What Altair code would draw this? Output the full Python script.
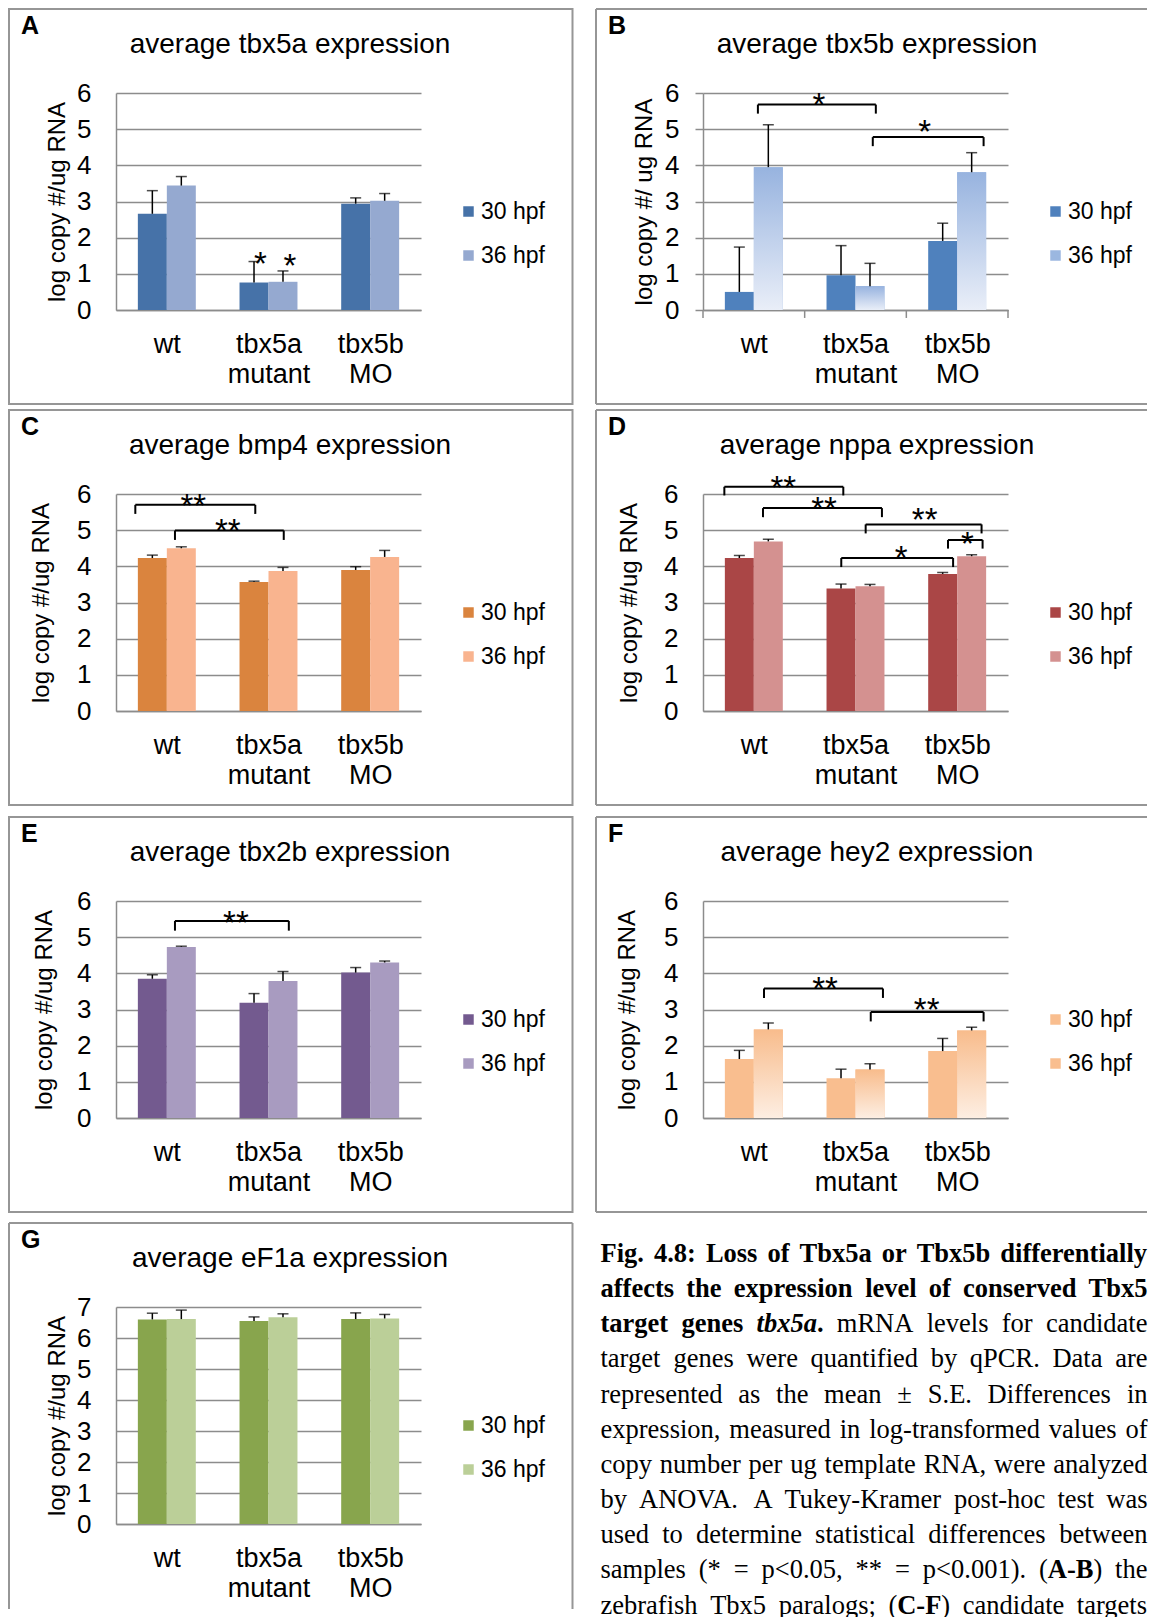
import json
import altair as alt
import pandas as pd

FONT = "Liberation Sans"
SERIF = "Liberation Serif"
GRAY = "#8c8c8c"
FRAME = "#969696"

# ---------------- data ----------------
groups = ["wt", "tbx5a mutant", "tbx5b MO"]
series = ["30 hpf", "36 hpf"]
letters = ["A", "B", "C", "D", "E", "F", "G"]
genes = ["tbx5a", "tbx5b", "bmp4", "nppa", "tbx2b", "hey2", "eF1a"]
ytitles = ["log copy #/ug RNA", "log copy #/ ug RNA", "log copy #/ug RNA", "log copy #/ug RNA",
           "log copy #/ug RNA", "log copy #/ug RNA", "log copy #/ug RNA"]

A_30 = [2.66, 0.76, 2.94]; A_30_se = [0.64, 0.58, 0.16]
A_36 = [3.44, 0.78, 3.02]; A_36_se = [0.25, 0.30, 0.20]
B_30 = [0.50, 0.96, 1.91]; B_30_se = [1.24, 0.82, 0.49]
B_36 = [3.95, 0.66, 3.81]; B_36_se = [1.17, 0.63, 0.54]
C_30 = [4.23, 3.57, 3.90]; C_30_se = [0.08, 0.02, 0.09]
C_36 = [4.50, 3.87, 4.26]; C_36_se = [0.04, 0.10, 0.18]
D_30 = [4.23, 3.39, 3.79]; D_30_se = [0.07, 0.12, 0.04]
D_36 = [4.69, 3.45, 4.28]; D_36_se = [0.06, 0.05, 0.04]
E_30 = [3.85, 3.19, 4.02]; E_30_se = [0.11, 0.25, 0.14]
E_36 = [4.73, 3.79, 4.30]; E_36_se = [0.02, 0.26, 0.04]
F_30 = [1.63, 1.10, 1.85]; F_30_se = [0.24, 0.25, 0.35]
F_36 = [2.45, 1.34, 2.42]; F_36_se = [0.18, 0.16, 0.09]
G_30 = [6.60, 6.55, 6.61]; G_30_se = [0.20, 0.13, 0.20]
G_36 = [6.61, 6.67, 6.63]; G_36_se = [0.29, 0.11, 0.13]

# significance brackets: (x start, x end, bracket level, leg end) in axis units
A_br = []
B_br = [(0.54, 1.70, 5.68, 5.43), (1.67, 2.76, 4.78, 4.53)]
C_br = [(0.19, 1.37, 5.70, 5.45), (0.58, 1.65, 4.99, 4.73)]
D_br = [(0.21, 1.38, 6.20, 5.96), (0.59, 1.76, 5.61, 5.36), (1.60, 2.74, 5.16, 4.91),
        (2.41, 2.75, 4.73, 4.49), (1.36, 2.46, 4.23, 3.98)]
E_br = [(0.58, 1.70, 5.45, 5.18)]
F_br = [(0.60, 1.77, 3.58, 3.32), (1.65, 2.76, 2.93, 2.67)]
G_br = []
# significance stars: (x, y, label)
A_st = [(1.42, 1.50, "*"), (1.71, 1.43, "*")]
B_st = [(1.14, 5.90, "*"), (2.18, 5.15, "*")]
C_st = [(0.76, 5.90, "**"), (1.10, 5.20, "**")]
D_st = [(0.79, 6.40, "**"), (1.19, 5.80, "**"), (2.18, 5.50, "**"), (2.60, 4.85, "*"), (1.95, 4.45, "*")]
E_st = [(1.18, 5.60, "**")]
F_st = [(1.20, 3.80, "**"), (2.20, 3.20, "**")]
G_st = []

colors = [("#4672A8", "#95A9D0"), ("#4F81BD", "#9BB7E0"), ("#DA843E", "#F9B48F"),
          ("#AA4646", "#D49190"), ("#735A8F", "#A89BC0"), ("#F9BE8F", "#F9BE8F"),
          ("#88A54D", "#BBCF98")]
gradients = {1: ("#97B3DF", "#E9EEF8"), 5: ("#F8BC8C", "#FDEEE2")}

caption_lines = [
    [("Fig. 4.8: Loss of Tbx5a or Tbx5b differentially", "b")],
    [("affects the expression level of conserved Tbx5", "b")],
    [("target genes ", "b"), ("tbx5a", "bi"), (".", "b"), (" mRNA levels for candidate", "r")],
    [("target genes were quantified by qPCR. Data are", "r")],
    [("represented as the mean \u00b1 S.E. Differences in", "r")],
    [("expression, measured in log-transformed values of", "r")],
    [("copy number per ug template RNA, were analyzed", "r")],
    [("by ANOVA. A Tukey-Kramer post-hoc test was", "r")],
    [("used to determine statistical differences between", "r")],
    [("samples (* = p<0.05, ** = p<0.001). (", "r"), ("A-B", "b"), (") the", "r")],
    [("zebrafish Tbx5 paralogs; (", "r"), ("C-F", "b"), (") candidate targets", "r")],
]

# ---------------- layout constants (pixels relative to each plot area) ----------------
PW, PH = 305, 217
BAR_W = 0.285
FL, FT, FH = -107, -84, 395
FW_LEFT = 563.5
FX_RIGHT = 444
ONE = pd.DataFrame({"k": [0]})


def panel(idx, v30, e30, v36, e36, br, st, ymax, tpad, right, ticks=False,
          bottom_pad=0, open_bottom=False):
    c30, c36 = colors[idx]
    xs = alt.Scale(domain=[0, 3], nice=False, zero=False)
    ys = alt.Scale(domain=[0, ymax], nice=False)
    label_expr = "datum.value < 1 ? %s : datum.value < 2 ? %s : %s" % tuple(
        json.dumps(g.split(" ")) for g in groups)
    x_axis = alt.Axis(values=[0.5, 1.5, 2.5], labelExpr=label_expr, ticks=False, tickSize=0,
                      grid=False, domain=True, domainColor=GRAY, domainWidth=1.5,
                      labelFontSize=27, labelColor="black", labelPadding=21, labelLineHeight=30,
                      labelAngle=0, title=None, labelFlush=False, labelOverlap=False)
    y_axis = alt.Axis(values=list(range(ymax + 1)), format="d", grid=True, gridColor=GRAY,
                      gridWidth=1.5, domain=True, domainColor=GRAY, domainWidth=1.5,
                      ticks=ticks, tickSize=8 if ticks else 0, tickColor=GRAY, tickWidth=1.5,
                      labelFontSize=26, labelColor="black", labelPadding=16 if ticks else 25,
                      title=ytitles[idx], titleFontSize=24, titleFontWeight="normal",
                      titleColor="black", titlePadding=tpad)

    def X(f):
        return alt.X(f, scale=xs, axis=x_axis)

    def Y(f):
        return alt.Y(f, scale=ys, axis=y_axis)

    rows = []
    for i, g in enumerate(groups):
        for s, (vals, errs) in enumerate([(v30, e30), (v36, e36)]):
            x0 = i + 0.5 - BAR_W + s * BAR_W
            rows.append(dict(group=g, series=series[s], val=vals[i], err=errs[i],
                             top=vals[i] + errs[i], x0=x0, x1=x0 + BAR_W,
                             xc=x0 + BAR_W / 2, base=0))
    df = pd.DataFrame(rows)
    layers = []
    # panel frame
    segs = None
    if right:
        segs = [(FL, FX_RIGHT, FT, None), (FL, None, FT, FT + FH), (FL, FX_RIGHT, FT + FH, None)]
    elif open_bottom:
        fh = 386
        segs = [(FL, FL + FW_LEFT, FT, None), (FL, None, FT, FT + fh), (FL + FW_LEFT, None, FT, FT + fh)]
    if segs:
        for a, b, c, d in segs:
            enc = dict(x=alt.value(a), y=alt.value(c))
            if b is not None:
                enc["x2"] = alt.value(b)
            if d is not None:
                enc["y2"] = alt.value(d)
            layers.append(alt.Chart(ONE).mark_rule(color=FRAME, strokeWidth=2).encode(**enc))
    else:
        layers.append(alt.Chart(ONE).mark_rect(filled=False, stroke=FRAME, strokeWidth=2).encode(
            x=alt.value(FL), x2=alt.value(FL + FW_LEFT), y=alt.value(FT), y2=alt.value(FT + FH)))
    if bottom_pad:
        layers.append(alt.Chart(ONE).mark_rule(color="white", strokeWidth=1).encode(
            x=alt.value(FL + 5), y=alt.value(FT + FH + 1), y2=alt.value(FT + FH + bottom_pad)))

    leg = alt.Legend(orient="none", legendX=341, legendY=107, title=None, symbolType="square",
                     symbolSize=110, symbolStrokeWidth=0, labelFontSize=23, labelColor="black",
                     rowPadding=20, labelOffset=1, padding=0)
    layers.append(alt.Chart(df).mark_bar().encode(
        x=X("x0:Q"), x2="x1:Q", y=Y("val:Q"), y2="base:Q",
        color=alt.Color("series:N", scale=alt.Scale(domain=series, range=[c30, c36]), legend=leg)))
    if idx in gradients:
        gt, gb = gradients[idx]
        grad = alt.LinearGradient(gradient="linear", x1=0, x2=0, y1=0, y2=1,
                                  stops=[alt.GradientStop(color=gt, offset=0),
                                         alt.GradientStop(color=gb, offset=1)])
        layers.append(alt.Chart(df[df.series == series[1]]).mark_bar(color=grad).encode(
            x=X("x0:Q"), x2="x1:Q", y=Y("val:Q"), y2="base:Q"))
    if ticks:
        tdf = pd.DataFrame({"xt": [0, 1, 2, 3], "y0": 0, "y1": -0.22 * ymax / 6})
        layers.append(alt.Chart(tdf).mark_rule(color=GRAY, strokeWidth=1.5).encode(
            x=X("xt:Q"), y=Y("y0:Q"), y2="y1:Q"))
    # error bars (mean + S.E.)
    layers.append(alt.Chart(df).mark_rule(color="black", strokeWidth=1.5).encode(
        x=X("xc:Q"), y=Y("val:Q"), y2="top:Q"))
    layers.append(alt.Chart(df).mark_tick(orient="horizontal", size=11, thickness=1.5, color="black").encode(
        x=X("xc:Q"), y=Y("top:Q")))
    if br:
        bdf = pd.DataFrame(br, columns=["bx1", "bx2", "by", "bl"])
        layers.append(alt.Chart(bdf).mark_rule(color="black", strokeWidth=2).encode(
            x=X("bx1:Q"), x2="bx2:Q", y=Y("by:Q")))
        layers.append(alt.Chart(bdf).mark_rule(color="black", strokeWidth=2).encode(
            x=X("bx1:Q"), y=Y("by:Q"), y2="bl:Q"))
        layers.append(alt.Chart(bdf).mark_rule(color="black", strokeWidth=2).encode(
            x=X("bx2:Q"), y=Y("by:Q"), y2="bl:Q"))
    if st:
        sdf = pd.DataFrame(st, columns=["sx", "sy", "lab"])
        layers.append(alt.Chart(sdf).mark_text(fontSize=33, dy=9, color="black").encode(
            x=X("sx:Q"), y=Y("sy:Q"), text="lab:N"))
    # title and panel letter
    layers.append(alt.Chart(pd.DataFrame({"t": ["average %s expression" % genes[idx]]})).mark_text(
        fontSize=28, align="center", baseline="middle", color="black").encode(
        text="t:N", x=alt.value(174), y=alt.value(-48)))
    layers.append(alt.Chart(pd.DataFrame({"t": [letters[idx]]})).mark_text(
        fontSize=25, fontWeight="bold", align="left", baseline="middle", color="black").encode(
        text="t:N", x=alt.value(-95), y=alt.value(-67)))
    return alt.layer(*layers).properties(width=PW, height=PH)


pA = panel(0, A_30, A_30_se, A_36, A_36_se, A_br, A_st, 6, 7, False)
pB = panel(1, B_30, B_30_se, B_36, B_36_se, B_br, B_st, 6, 8, True, ticks=True)
pC = panel(2, C_30, C_30_se, C_36, C_36_se, C_br, C_st, 6, 23, False, bottom_pad=6)
pD = panel(3, D_30, D_30_se, D_36, D_36_se, D_br, D_st, 6, 22, True, bottom_pad=6)
pE = panel(4, E_30, E_30_se, E_36, E_36_se, E_br, E_st, 6, 20, False, bottom_pad=5)
pF = panel(5, F_30, F_30_se, F_36, F_36_se, F_br, F_st, 6, 24, True, bottom_pad=5)
pG = panel(6, G_30, G_30_se, G_36, G_36_se, G_br, G_st, 7, 7, False, open_bottom=True)

# ---------------- caption (justified) ----------------
W_R = {' ': 250, '(': 333, ')': 333, '*': 500, ',': 250, '-': 333, '.': 250, ':': 278, ';': 278,
       '<': 564, '=': 564, '\u00b1': 564,
       'A': 722, 'B': 667, 'C': 667, 'D': 722, 'E': 611, 'F': 556, 'K': 722, 'N': 722, 'O': 722,
       'P': 556, 'R': 667, 'S': 556, 'T': 611, 'V': 722,
       'a': 444, 'b': 500, 'c': 444, 'd': 500, 'e': 444, 'f': 333, 'g': 500, 'h': 500, 'i': 278,
       'j': 278, 'k': 500, 'l': 278, 'm': 778, 'n': 500, 'o': 500, 'p': 500, 'q': 500, 'r': 333,
       's': 389, 't': 278, 'u': 500, 'v': 500, 'w': 722, 'x': 500, 'y': 500, 'z': 444}
W_B = {' ': 250, '.': 250, ':': 333, ',': 250, '(': 333, ')': 333, '-': 333,
       'A': 722, 'B': 667, 'C': 722, 'F': 611, 'L': 667, 'T': 667,
       'a': 500, 'b': 556, 'c': 444, 'd': 556, 'e': 444, 'f': 333, 'g': 500, 'h': 556, 'i': 278,
       'l': 278, 'n': 556, 'o': 500, 'p': 556, 'r': 444, 's': 389, 't': 333, 'v': 500, 'x': 500,
       'y': 500}
W_BI = {'t': 278, '.': 250}
WT = {"r": W_R, "b": W_B, "bi": W_BI}
CAP_FS = 26.5
# caption positions are relative to the plot origin of the cell above it (column 2, row 4)
CAP_X0, CAP_LW = -102.5, 547
CAP_Y0, CAP_DY = -45, 35.15


def run_w(text, st):
    return sum(WT[st].get(ch, 500) for ch in text) / 1000.0 * CAP_FS


cap_rows = []
for li, line in enumerate(caption_lines):
    words, cur = [], []
    for text, stl in line:
        parts = text.split(" ")
        for k, p in enumerate(parts):
            if k > 0 and cur:
                words.append(cur)
                cur = []
            if p:
                cur.append((p, stl))
    if cur:
        words.append(cur)
    widths = [sum(run_w(p, s) for p, s in w) for w in words]
    gap = (CAP_LW - sum(widths)) / (len(words) - 1)
    x = CAP_X0
    for w, ww in zip(words, widths):
        xx = x
        for p, s in w:
            cap_rows.append(dict(px=xx, py=CAP_Y0 + CAP_DY * li, txt=p, st=s))
            xx += run_w(p, s)
        x += ww + gap
cdf = pd.DataFrame(cap_rows)

cap_layers = []
for stl, fw, fs in [("r", "normal", "normal"), ("b", "bold", "normal"), ("bi", "bold", "italic")]:
    cap_layers.append(alt.Chart(cdf[cdf.st == stl]).mark_text(
        font=SERIF, fontSize=CAP_FS, fontWeight=fw, fontStyle=fs, align="left",
        baseline="alphabetic", color="black").encode(
        x=alt.X("px:Q", scale=None), y=alt.Y("py:Q", scale=None), text="txt:N"))
pCap = alt.layer(*cap_layers).properties(width=PW, height=PH)

chart = alt.concat(pA, pB, pC, pD, pE, pF, pG, pCap, columns=2,
                   spacing={"row": 4, "column": 21}, align="each", bounds="full"
                   ).resolve_scale(color="independent").properties(padding=0
                   ).configure(font=FONT).configure_view(strokeWidth=0)

chart.save("out.html", embed_options={"renderer": "svg", "actions": False})
